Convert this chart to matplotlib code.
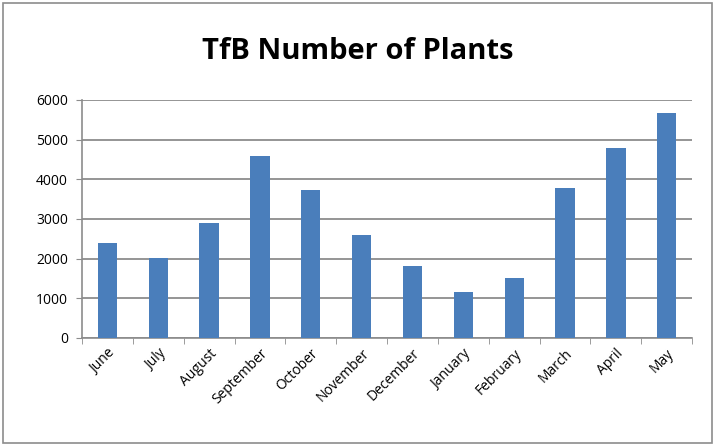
import numpy as np
import matplotlib.pyplot as plt
from matplotlib.patches import Rectangle

# Numero de plantas por mes
meses = ['June', 'July', 'August', 'September', 'October', 'November',
         'December', 'January', 'February', 'March', 'April', 'May']
plantas = [2400, 2020, 2900, 4600, 3730, 2600, 1820, 1170, 1520, 3780, 4800, 5680]
y_ticks = [0, 1000, 2000, 3000, 4000, 5000, 6000]

plt.rcParams['font.family'] = ['Open Sans', 'DejaVu Sans']

fig = plt.figure(figsize=(7.15, 4.46), dpi=100)
ax = fig.add_axes([0.1147, 0.2422, 0.8533, 0.5336])

x = np.arange(len(meses))
ax.bar(x, plantas, width=0.38, color='#4a7ebb', zorder=3)

ax.set_xlim(-0.5, len(meses) - 0.5)
ax.set_ylim(0, 6000)
ax.set_yticks(y_ticks)
ax.set_yticklabels([str(v) for v in y_ticks], fontsize=10)
ax.yaxis.grid(True, color='#8c8c8c', linewidth=1.3, zorder=0)

ax.set_xticks(x)
ax.set_xticklabels(meses, rotation=45, ha='right', va='top', rotation_mode='anchor', fontsize=10)
ax.tick_params(axis='x', length=0, pad=6)
ax.set_xticks(np.arange(-0.5, len(meses)), minor=True)
ax.tick_params(axis='x', which='minor', length=4, color='#8c8c8c', direction='out')
ax.tick_params(axis='y', length=4, color='#8c8c8c', direction='out', pad=6)

for s in ['top', 'right']:
    ax.spines[s].set_visible(False)
for s in ['left', 'bottom']:
    ax.spines[s].set_color('#8c8c8c')
    ax.spines[s].set_linewidth(1.2)

fig.text(0.5, 0.885, 'TfB Number of Plants', ha='center', va='center',
         fontsize=21, fontweight='bold')

# marco exterior
fig.patches.append(Rectangle((0.004, 0.006), 0.992, 0.988, transform=fig.transFigure,
                             fill=False, edgecolor='#8c8c8c', linewidth=1.2))

plt.savefig('out.png', dpi=100)
